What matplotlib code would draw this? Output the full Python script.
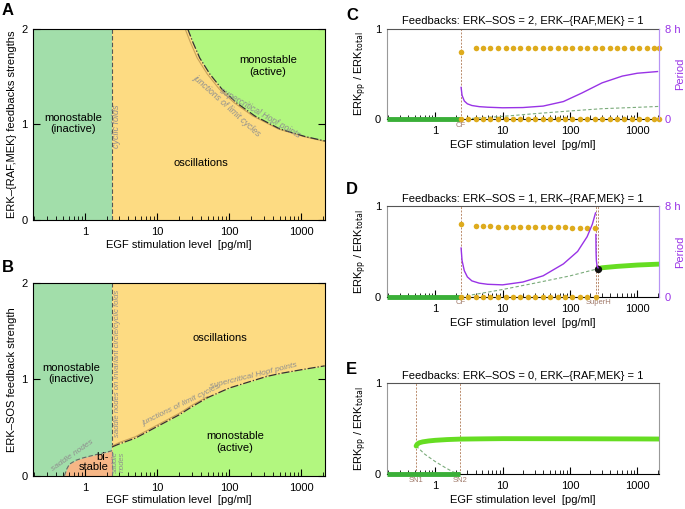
import numpy as np
import matplotlib.pyplot as plt

plt.rcParams["font.family"] = ["Liberation Sans", "DejaVu Sans"]

X_MIN, X_MAX = 0.19, 2100.0
CF = 2.4

# panel A: Hopf curve (ERK-{RAF,MEK} strength vs EGF)
a_hopf_x = [26.6, 31.2, 39.0, 53.7, 78.7, 127, 226, 502, 1117, 2114]
a_hopf_y = [2.0, 1.864, 1.696, 1.529, 1.372, 1.225, 1.089, 0.953, 0.874, 0.827]
a_jlc_x = [24.5, 28.8, 36.0, 49.5, 72.5, 118, 212, 478, 1090, 2114]
a_jlc_y = [2.0, 1.864, 1.696, 1.529, 1.372, 1.225, 1.089, 0.953, 0.872, 0.822]

# panel B: saddle-node curve and Hopf curve (ERK-SOS strength vs EGF)
b_sn_x = [0.52, 0.56, 0.61, 0.75, 0.94, 1.2, 1.44, 1.9, 2.4]
b_sn_y = [0.0, 0.07, 0.12, 0.16, 0.185, 0.205, 0.22, 0.24, 0.26]
b_hopf_x = [2.4, 3, 5, 10, 20, 31, 50, 100, 200, 330, 500, 1000, 2100]
b_hopf_y = [0.30, 0.33, 0.39, 0.51, 0.63, 0.72, 0.81, 0.91, 0.98, 1.03, 1.06, 1.10, 1.14]
b_jlc_x = [2.4, 3, 5, 10, 20, 31, 50]
b_jlc_y = [0.31, 0.345, 0.405, 0.525, 0.645, 0.735, 0.82]

# panel C: ERK-SOS = 2
c_dots_x = [2.45, 4.0, 5.2, 6.6, 8.6, 11.1, 14.3, 18.4, 23.7, 30.6, 39.4, 50.8, 65.5,
            84.4, 109, 140, 181, 233, 300, 387, 499, 643, 829, 1070, 1380, 1780, 2090]
c_dots_hi = [0.74] + [0.78] * 26
c_lo_x = [2.45, 3.1, 4.0, 5.2, 6.6, 8.6, 11.1, 14.3, 18.4, 23.7, 30.6, 39.4, 50.8, 65.5,
          84.4, 109, 140, 181, 233, 300, 387, 499, 643, 829, 1070, 1380, 1780, 2090]
c_per_x = [2.42, 2.5, 2.7, 3.0, 3.5, 4.5, 6, 10, 20, 40, 80, 150, 300, 600, 1000, 2000]
c_per_h = [2.8, 2.1, 1.6, 1.35, 1.2, 1.1, 1.05, 1.0, 1.02, 1.15, 1.55, 2.3, 3.2, 3.8, 4.05, 4.2]
c_uns_x = [2.4, 5, 10, 30, 100, 300, 1000, 2100]
c_uns_y = [0.0, 0.015, 0.03, 0.06, 0.09, 0.115, 0.13, 0.14]

# panel D: ERK-SOS = 1
SUPERH = 262
d_dots_x = [2.45, 4.0, 5.2, 6.6, 8.6, 11.1, 14.3, 18.4, 23.7, 30.6, 39.4, 50.8, 65.5,
            84.4, 109, 140, 181, 233]
d_dots_hi = [0.80, 0.785, 0.78, 0.78, 0.775, 0.775, 0.775, 0.77, 0.77, 0.77, 0.77,
             0.765, 0.765, 0.765, 0.76, 0.76, 0.76, 0.76]
d_lo_x = [2.45, 3.1, 4.0, 5.2, 6.6, 8.6, 11.1, 14.3, 18.4, 23.7, 30.6, 39.4, 50.8,
          65.5, 84.4, 109, 140, 181, 240]
d_per_x = [2.42, 2.5, 2.7, 3.0, 3.5, 4.5, 6, 10, 20, 40, 80, 130, 180, 215, 240]
d_per_h = [4.3, 3.2, 2.3, 1.75, 1.4, 1.2, 1.1, 1.05, 1.3, 1.85, 2.9, 4.0, 5.3, 6.4, 7.4]
d_per2_x = [243, 243.5, 244, 245, 247, 251, 256, SUPERH]
d_per2_h = [5.5, 4.9, 4.3, 3.7, 3.2, 2.85, 2.65, 2.55]
d_uns_x = [2.4, 5, 10, 30, 100, SUPERH]
d_uns_y = [0.0, 0.04, 0.08, 0.15, 0.23, 0.31]
d_up_x = [SUPERH, 300, 500, 1000, 2100]
d_up_y = [0.31, 0.32, 0.335, 0.35, 0.36]

# panel E: ERK-SOS = 0
SN1, SN2 = 0.52, 2.33
e_up_x = [0.52, 0.54, 0.58, 0.65, 0.8, 1.0, 1.5, 2.3, 5, 10, 100, 1000, 2100]
e_up_y = [0.31, 0.33, 0.345, 0.355, 0.365, 0.372, 0.38, 0.385, 0.388, 0.39, 0.389, 0.387, 0.386]
e_uns_x = [0.52, 0.7, 1.0, 1.4, 1.8, 2.33]
e_uns_y = [0.31, 0.22, 0.14, 0.075, 0.03, 0.0]

C_INACT = "#a2deaa"
C_OSC = "#fddb82"
C_ACT = "#b2f77f"
C_BI = "#f6b686"
C_GOLD = "#deab1d"
C_PURPLE = "#9933e6"
C_RSPINE = "#b794f4"
C_LOW = "#3aaf38"
C_UP = "#66dd22"
C_BROWN = "#b98a6a"
C_NOTE = "#8f8f8f"

FS = 8
XLABEL = "EGF stimulation level  [pg/ml]"


def style_log_x(ax, labelpad=2):
    ax.set_xscale("log")
    ax.set_xlim(X_MIN, X_MAX)
    ax.set_xticks([1, 10, 100, 1000])
    ax.set_xticklabels(["1", "10", "100", "1000"])
    ax.tick_params(axis="x", which="major", direction="in", length=5, width=0.8,
                   labelsize=FS, pad=5)
    ax.tick_params(axis="x", which="minor", direction="in", length=3, width=0.6)
    ax.set_xlabel(XLABEL, fontsize=FS, labelpad=labelpad)


fig = plt.figure(figsize=(6.85, 5.09), dpi=100)

# ---------------- A ----------------
axA = fig.add_axes([0.048, 0.568, 0.426, 0.375])
axA.axvspan(X_MIN, CF, color=C_INACT, lw=0)
axA.axvspan(CF, X_MAX, color=C_OSC, lw=0)
axA.fill_between(a_hopf_x, a_hopf_y, 2, color=C_ACT, lw=0)
axA.axvline(CF, color="#555555", lw=0.8, ls=(0, (4, 2)))
axA.plot(a_jlc_x, a_jlc_y, color="#c9a25a", lw=0.8)
axA.plot(a_hopf_x, a_hopf_y, color="#333333", lw=0.9, ls="-.")
style_log_x(axA)
axA.set_ylim(0, 2)
axA.set_yticks([0, 1, 2])
axA.tick_params(axis="y", direction="in", length=5, labelsize=FS, right=True, pad=4)
axA.set_ylabel("ERK–{RAF,MEK} feedbacks strengths", fontsize=FS, labelpad=3)
axA.text(0.68, 1.01, "monostable\n(inactive)", ha="center", va="center", fontsize=FS)
axA.text(40, 0.60, "oscillations", ha="center", va="center", fontsize=FS)
axA.text(345, 1.61, "monostable\n(active)", ha="center", va="center", fontsize=FS)
axA.text(2.78, 0.98, "cyclic folds", rotation=90, ha="center", va="center",
         fontsize=6.5, style="italic", color=C_NOTE)
axA.text(265, 1.12, "supercritical Hopf points", rotation=-30, ha="center", va="center",
         fontsize=6.2, style="italic", color=C_NOTE)
axA.text(95, 1.19, "junctions of limit cycles", rotation=-42, ha="center", va="center",
         fontsize=6.2, style="italic", color=C_NOTE)
fig.text(0.003, 0.994, "A", fontsize=12, fontweight="bold", va="top")

# ---------------- B ----------------
axB = fig.add_axes([0.048, 0.0654, 0.426, 0.3786])
axB.axvspan(X_MIN, CF, color=C_INACT, lw=0)
axB.axvspan(CF, X_MAX, color=C_OSC, lw=0)
axB.fill_between(b_sn_x, 0, b_sn_y, color=C_BI, lw=0)
axB.fill_between(b_hopf_x, 0, b_hopf_y, color=C_ACT, lw=0)
axB.plot([CF, CF], [b_hopf_y[0], 2], color="#555555", lw=0.8, ls=(0, (4, 2)))
axB.plot([CF, CF], [0, b_sn_y[-1]], color="#777777", lw=0.8, ls=(0, (4, 2)))
axB.plot(b_sn_x, b_sn_y, color="#666666", lw=0.8, ls=(0, (4, 2)))
axB.plot(b_jlc_x, b_jlc_y, color="#c9a25a", lw=0.8)
axB.plot(b_hopf_x, b_hopf_y, color="#333333", lw=0.9, ls="-.")
style_log_x(axB)
axB.set_ylim(0, 2)
axB.set_yticks([0, 1, 2])
axB.tick_params(axis="y", direction="in", length=5, labelsize=FS, right=True, pad=4)
axB.set_ylabel("ERK–SOS feedback strength", fontsize=FS, labelpad=3)
axB.text(0.65, 1.06, "monostable\n(inactive)", ha="center", va="center", fontsize=FS)
axB.text(74, 1.43, "oscillations", ha="center", va="center", fontsize=FS)
axB.text(120, 0.35, "monostable\n(active)", ha="center", va="center", fontsize=FS)
axB.text(2.15, 0.145, "bi-\nstable", ha="right", va="center", fontsize=FS,
         multialignment="right", linespacing=0.95)
axB.text(2.8, 1.17, "saddle nodes on invariant circle/cyclic folds", rotation=90,
         ha="center", va="center", fontsize=5.6, style="italic", color=C_NOTE)
axB.text(2.95, 0.14, "saddle\nnodes", rotation=90, ha="center", va="center",
         fontsize=5.4, style="italic", color=C_NOTE, linespacing=0.9)
axB.text(0.68, 0.21, "saddle nodes", rotation=35, ha="center", va="center",
         fontsize=6, style="italic", color=C_NOTE)
axB.text(22, 0.73, "junctions of limit cycles", rotation=26, ha="center", va="center",
         fontsize=6, style="italic", color=C_NOTE)
axB.text(220, 1.04, "supercritical Hopf points", rotation=14, ha="center", va="center",
         fontsize=6, style="italic", color=C_NOTE)
fig.text(0.003, 0.489, "B", fontsize=12, fontweight="bold", va="top")


# ---------------- C, D, E ----------------
def bif_axes(rect, title, letter, letter_y, period=True):
    ax = fig.add_axes(rect)
    style_log_x(ax, labelpad=3)
    ax.set_ylim(0, 1)
    ax.set_yticks([0, 1])
    ax.tick_params(axis="y", length=0, labelsize=FS, pad=4)
    ax.set_ylabel("ERK$_{\\mathrm{pp}}$ / ERK$_{\\mathrm{total}}$", fontsize=FS, labelpad=4)
    ax.set_title(title, fontsize=FS, pad=3)
    ax.spines["left"].set_color("#999999")
    ax.spines["top"].set_color("#555555")
    ax.spines["right"].set_color(C_RSPINE if period else "#999999")
    fig.text(0.505, letter_y, letter, fontsize=12, fontweight="bold", va="top")
    ax2 = None
    if period:
        ax2 = ax.twinx()
        ax2.set_ylim(0, 8)
        ax2.set_yticks([0, 8])
        ax2.set_yticklabels(["0", "8 h"])
        ax2.tick_params(axis="y", length=0, labelsize=FS, colors=C_PURPLE, pad=4)
        ax2.set_ylabel("Period", fontsize=FS, color=C_PURPLE)
        ax2.yaxis.set_label_coords(1.058, 0.5)
        ax2.spines["right"].set_color(C_RSPINE)
        ax2.spines["left"].set_visible(False)
        ax2.spines["top"].set_visible(False)
        ax2.spines["bottom"].set_visible(False)
    return ax, ax2


def vmark(ax, x, label):
    ax.axvline(x, color=C_BROWN, lw=0.7, ls=(0, (2, 1.5)), zorder=1)
    ax.text(x, -0.03, label, transform=ax.get_xaxis_transform(), ha="center", va="top",
            fontsize=5.5, color="#a07a6a")


axC, axC2 = bif_axes([0.5645, 0.766, 0.3975, 0.178],
                     "Feedbacks: ERK–SOS = 2, ERK–{RAF,MEK} = 1", "C", 0.984)
vmark(axC, CF, "CF")
axC.plot([X_MIN, CF], [0, 0], color=C_LOW, lw=3.5, solid_capstyle="butt", zorder=3,
         clip_on=False)
axC.plot(c_uns_x, c_uns_y, color="#7aab7a", lw=0.8, ls=(0, (3, 2)))
axC.scatter(c_dots_x, c_dots_hi, s=16, color=C_GOLD, zorder=4, clip_on=False, lw=0)
axC.scatter(c_lo_x, [0] * len(c_lo_x), s=16, color=C_GOLD, zorder=4, clip_on=False, lw=0)
axC2.plot(c_per_x, c_per_h, color=C_PURPLE, lw=1.0)

axD, axD2 = bif_axes([0.5645, 0.417, 0.3975, 0.178],
                     "Feedbacks: ERK–SOS = 1, ERK–{RAF,MEK} = 1", "D", 0.642)
vmark(axD, CF, "CF")
vmark(axD, 245, "")
vmark(axD, SUPERH, "SuperH")
axD.plot([X_MIN, CF], [0, 0], color=C_LOW, lw=3.5, solid_capstyle="butt", zorder=3,
         clip_on=False)
axD.plot(d_uns_x, d_uns_y, color="#7aab7a", lw=0.8, ls=(0, (3, 2)))
axD.plot(d_up_x, d_up_y, color=C_UP, lw=3.5, solid_capstyle="round", zorder=3)
axD.scatter(d_dots_x, d_dots_hi, s=16, color=C_GOLD, zorder=4, lw=0)
axD.scatter(d_lo_x, [0] * len(d_lo_x), s=16, color=C_GOLD, zorder=4, clip_on=False, lw=0)
axD.scatter([SUPERH], [d_up_y[0]], s=18, color="#111111", zorder=5)
axD2.plot(d_per_x, d_per_h, color=C_PURPLE, lw=1.0)
axD2.plot(d_per2_x, d_per2_h, color=C_PURPLE, lw=1.0)

axE, _ = bif_axes([0.5645, 0.068, 0.3975, 0.18],
                  "Feedbacks: ERK–SOS = 0, ERK–{RAF,MEK} = 1", "E", 0.289, period=False)
vmark(axE, SN1, "SN1")
vmark(axE, SN2, "SN2")
axE.plot([X_MIN, SN2], [0, 0], color=C_LOW, lw=3.5, solid_capstyle="butt", zorder=3,
         clip_on=False)
axE.plot(e_uns_x, e_uns_y, color="#7aab7a", lw=0.8, ls=(0, (3, 2)))
axE.plot(e_up_x, e_up_y, color=C_UP, lw=3.5, solid_capstyle="round", zorder=3)

fig.savefig("out.png", dpi=100)
